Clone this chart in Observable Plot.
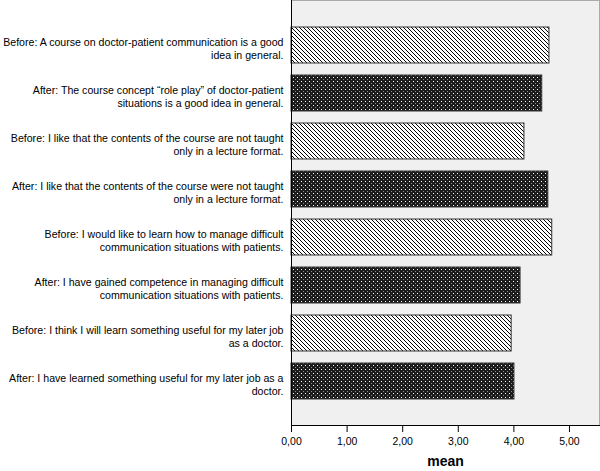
<!DOCTYPE html>
<html>
<head>
<meta charset="utf-8">
<script src="https://cdn.jsdelivr.net/npm/d3@7"></script>
<script src="https://cdn.jsdelivr.net/npm/@observablehq/plot@0.6"></script>
<style>
  html, body { margin: 0; padding: 0; background: #fff; }
  svg { display: block; }
</style>
</head>
<body>
<div id="chart"></div>
<script>
const labels = [
  "Before: A course on doctor-patient communication is a good\nidea in general.",
  "After: The course concept \u201crole play\u201d of doctor-patient\nsituations is a good idea in general.",
  "Before: I like that the contents of the course are not taught\nonly in a lecture format.",
  "After: I like that the contents of the course were not taught\nonly in a lecture format.",
  "Before: I would like to learn how to manage difficult\ncommunication situations with patients.",
  "After: I have gained competence in managing difficult\ncommunication situations with patients.",
  "Before: I think I will learn something useful for my later job\nas a doctor.",
  "After: I have learned something useful for my later job as a\ndoctor."
];
const groups = ["Before", "After", "Before", "After", "Before", "After", "Before", "After"];
const means = [4.64, 4.51, 4.19, 4.62, 4.69, 4.12, 3.96, 4.01];
const xTicks = [0, 1, 2, 3, 4, 5];
const xMax = 5.54;
const xTitle = "mean";

const data = labels.map((label, i) => ({label, group: groups[i], mean: means[i]}));

const svg = Plot.plot({
  width: 600,
  height: 471,
  marginLeft: 291,
  marginRight: 1,
  marginTop: 0,
  marginBottom: 46,
  style: {fontFamily: "'Liberation Sans', Arial, sans-serif", fontSize: "10.5px", color: "#000", background: "#fff"},
  x: {domain: [0, xMax]},
  y: {type: "band", domain: labels, paddingInner: 0.25, paddingOuter: 0.54},
  marks: [
    Plot.frame({fill: "#f0f0f0", stroke: "#aaa", strokeWidth: 1}),
    Plot.barX(data.filter(d => d.group === "Before"), {x: "mean", y: "label", fill: "url(#hatch)", stroke: "#333", strokeWidth: 1}),
    Plot.barX(data.filter(d => d.group === "After"), {x: "mean", y: "label", fill: "url(#dots)", stroke: "#333", strokeWidth: 1}),
    Plot.frame({anchor: "left", stroke: "#000", strokeWidth: 1}),
    Plot.frame({anchor: "bottom", stroke: "#000", strokeWidth: 1}),
    Plot.axisY({tickSize: 6, tickPadding: 2, label: null, lineHeight: 1.2, dy: 3, fontSize: 10.6, fill: "#000", stroke: null}),
    Plot.axisX({ticks: xTicks, tickSize: 7, tickPadding: 5, label: null, tickFormat: d => d.toFixed(2).replace(".", ",")}),
    Plot.text([xTitle], {frameAnchor: "bottom", dy: 40, fontWeight: "bold", fontSize: 14, fill: "#000"})
  ]
});

const defs = d3.select(svg).insert("defs", ":first-child");
const hatch = defs.append("pattern").attr("id", "hatch").attr("patternUnits", "userSpaceOnUse")
  .attr("width", 4).attr("height", 4);
hatch.append("rect").attr("width", 4).attr("height", 4).attr("fill", "#fff");
hatch.append("path").attr("d", "M-1,-1L5,5M3,-1L5,1M-1,3L1,5").attr("stroke", "#000").attr("stroke-width", 1);
const dots = defs.append("pattern").attr("id", "dots").attr("patternUnits", "userSpaceOnUse")
  .attr("width", 4).attr("height", 4);
dots.append("rect").attr("width", 4).attr("height", 4).attr("fill", "#1c1c1c");
dots.append("rect").attr("x", 1).attr("y", 1).attr("width", 1).attr("height", 1).attr("fill", "#fff");
dots.append("rect").attr("x", 3).attr("y", 3).attr("width", 1).attr("height", 1).attr("fill", "#888");

document.getElementById("chart").appendChild(svg);
</script>
</body>
</html>
